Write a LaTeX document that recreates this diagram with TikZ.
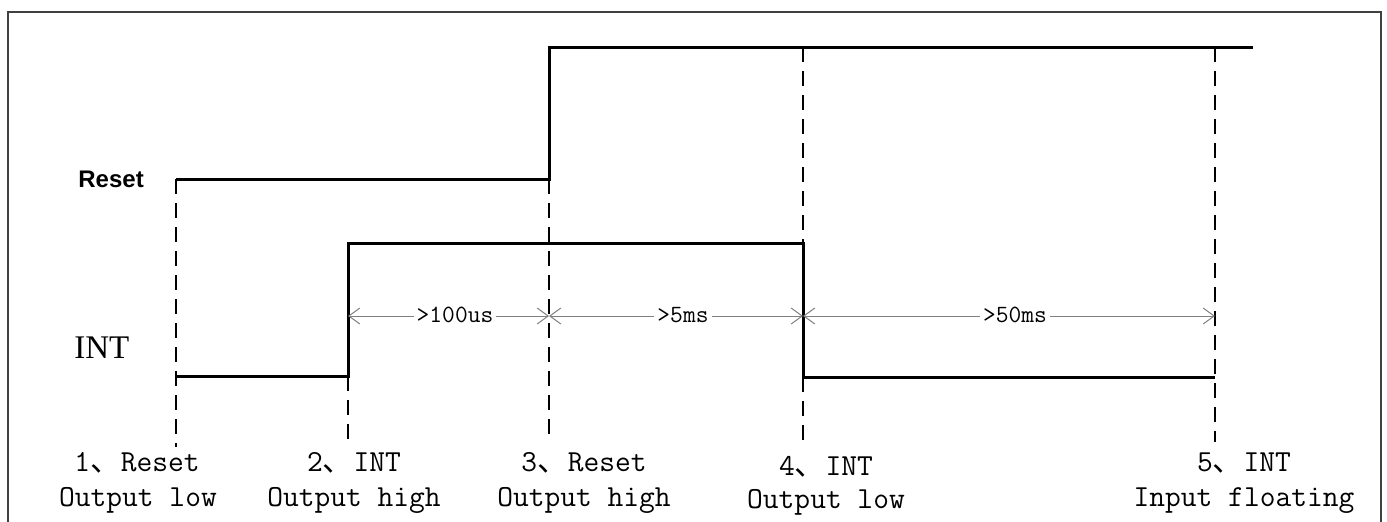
\documentclass[tikz,border=0pt]{standalone}
\usepackage{fontspec}
\newfontfamily\cjk{Noto Sans CJK SC}
\newfontfamily\arialf{Liberation Sans}
\newfontfamily\timesf{Liberation Serif}
\usetikzlibrary{arrows.meta}
\begin{document}
\begin{tikzpicture}[x=0.5pt,y=-0.5pt,
  sig/.style={line width=1.5pt},
  guide/.style={line width=1pt, dash pattern=on 7.5pt off 4.5pt},
  dim/.style={line width=0.5pt, draw=black!50, >={Straight Barb[length=5.5pt,width=8pt]}, <->},
  lab/.style={font=\ttfamily\fontsize{15.3pt}{18pt}\selectfont, inner sep=0pt, anchor=base},
  dlab/.style={font=\ttfamily\fontsize{12.4pt}{14pt}\selectfont, fill=white, inner sep=1.5pt},
  frame/.style={line width=0.75pt, draw=black!75}
]
\useasboundingbox (0,0) rectangle (1387,521);
\coordinate (f0) at (8,522);
\coordinate (f1) at (8,12);
\coordinate (f2) at (1381,12);
\coordinate (f3) at (1381,522);
\draw[frame] (f0) -- (f1) -- (f2) -- (f3);

% signal corners
\coordinate (r0) at (176,179);
\coordinate (r1) at (549,179);
\coordinate (r2) at (549,47);
\coordinate (r3) at (1253,47);
\coordinate (i0) at (176,376);
\coordinate (i1) at (348,376);
\coordinate (i2) at (348,243);
\coordinate (i3) at (803,243);
\coordinate (i4) at (803,377);
\coordinate (i5) at (1215,377);
\coordinate (h4) at (803,47);
\coordinate (h5) at (1215,47);

% guide ends
\coordinate (g1) at (176,447);
\coordinate (g2) at (348,440);
\coordinate (g3) at (549,443);
\coordinate (g4) at (803,447);
\coordinate (g5) at (1215,442);

\draw[guide] (r0) -- (g1);
\draw[guide] (i1) -- (g2);
\draw[guide] (r1) -- (g3);
\draw[guide] (h4) -- (i3);
\draw[guide] (i4) -- (g4);
\draw[guide] (h5) -- (g5);

\draw[sig] (r0) -- (r1) -- (r2) -- (r3);
\draw[sig] (i0) -- (i1) -- (i2) -- (i3) -- (i4) -- (i5);

% dimension line
\coordinate (d1) at (348,316);
\coordinate (d2) at (549,316);
\coordinate (d3) at (803,316);
\coordinate (d4) at (1215,316);
\draw[dim] (d1) -- (d2);
\draw[dim] (d2) -- (d3);
\draw[dim] (d3) -- (d4);
\node[dlab] (t1) at (455,315) {>100us};
\node[dlab] (t2) at (683,315) {>5ms};
\node[dlab] (t3) at (1015,315) {>50ms};

% signal names
\node[font=\arialf\bfseries\fontsize{12pt}{14pt}\selectfont, inner sep=0pt, anchor=base west] (nreset) at (78,187) {Reset};
\node[font=\timesf\fontsize{16.5pt}{19pt}\selectfont, inner sep=0pt, anchor=base west] (nint) at (74,358) {INT};

% event labels
\node[lab] (a1) at (137,471) {1{\cjk 、}Reset};
\node[lab] (b1) at (138,506) {Output low};
\node[lab] (a2) at (354,471) {2{\cjk 、}INT};
\node[lab] (b2) at (354,506) {Output high};
\node[lab] (a3) at (584,471) {3{\cjk 、}Reset};
\node[lab] (b3) at (584,506) {Output high};
\node[lab] (a4) at (826,475) {4{\cjk 、}INT};
\node[lab] (b4) at (826,508) {Output low};
\node[lab] (a5) at (1244,471) {5{\cjk 、}INT};
\node[lab] (b5) at (1244,506) {Input floating};
\end{tikzpicture}
\end{document}
